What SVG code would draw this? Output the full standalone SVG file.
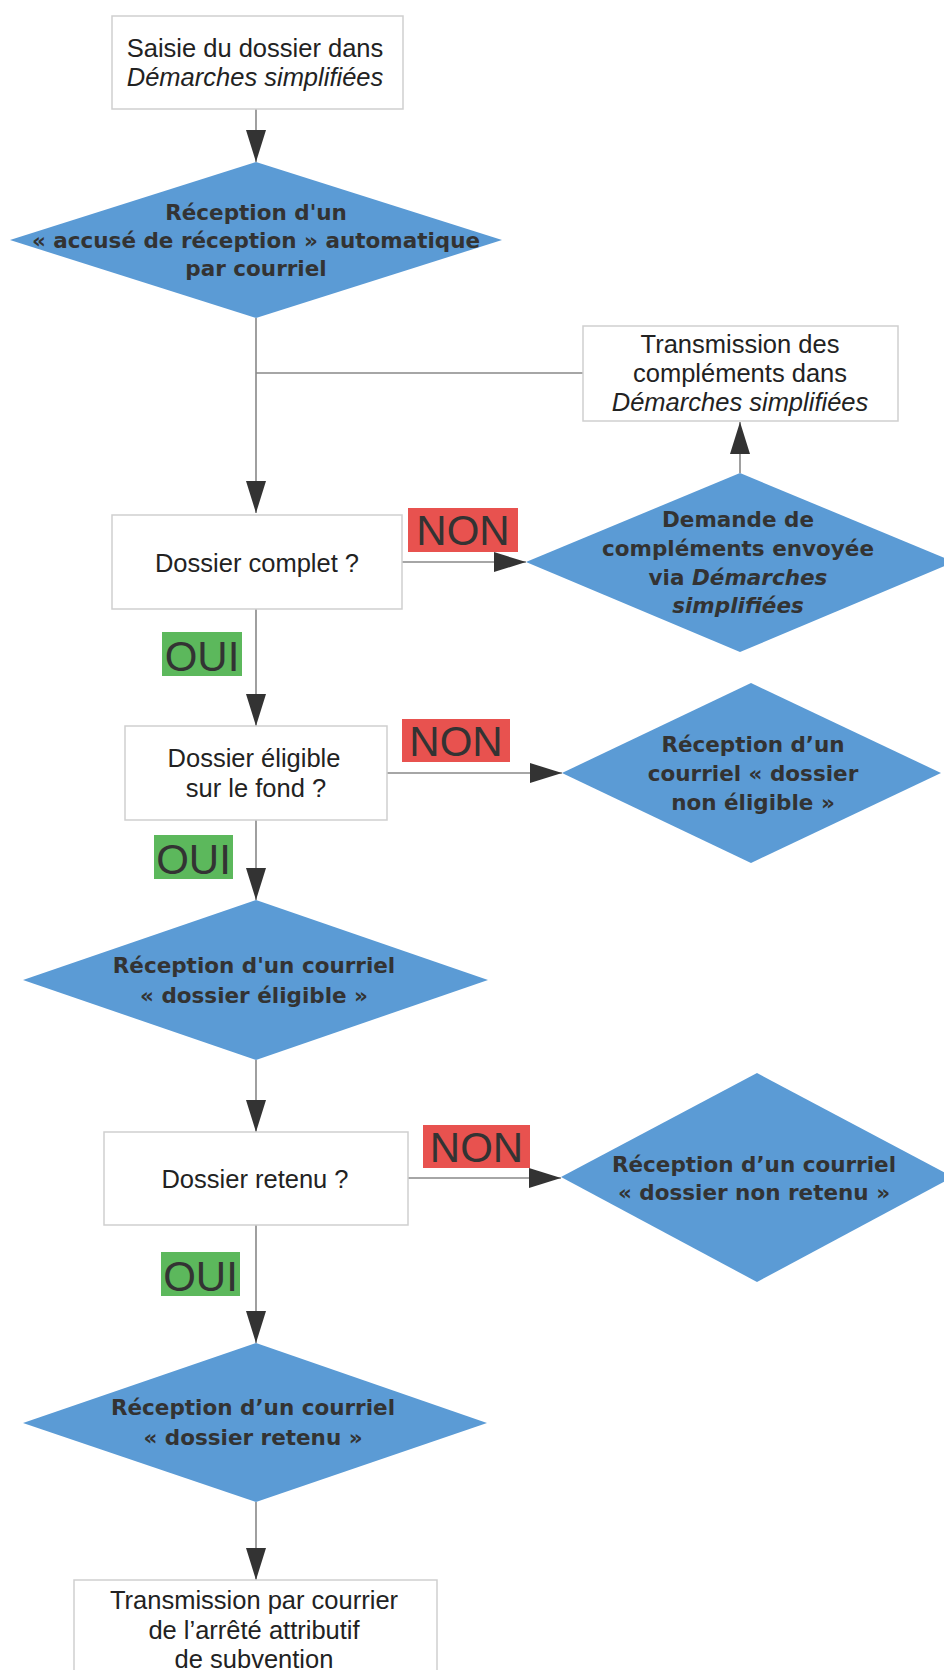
<svg xmlns="http://www.w3.org/2000/svg" width="944" height="1670" viewBox="0 0 944 1670">
  <defs>
    <marker id="ah" markerUnits="userSpaceOnUse" markerWidth="32" markerHeight="20" refX="32" refY="10" orient="auto">
      <path d="M0,0 L32,10 L0,20 z" fill="#333"/>
    </marker>
    <style>
      .box { fill: #fff; stroke: #cfcfcf; stroke-width: 1.5; }
      .dia { fill: #5b9bd5; stroke: none; }
      .conn { fill: none; stroke: #888; stroke-width: 1.6; }
      .arr { marker-end: url(#ah); }
      .t { font-family: "Liberation Sans", Arial, sans-serif; font-size: 25.5px; fill: #222; text-anchor: middle; }
      .b { font-family: "DejaVu Sans", sans-serif; font-weight: bold; font-size: 21.5px; fill: #333; text-anchor: middle; }
      .i { font-style: italic; }
      .lbl { font-family: "Liberation Sans", Arial, sans-serif; font-size: 42px; fill: #333; text-anchor: middle; }
      .non { fill: #e8524f; }
      .oui { fill: #5cb85c; }
    </style>
  </defs>
  <rect width="944" height="1670" fill="#fff"/>

  <g id="connectors">
    <path class="conn arr" d="M256,109 V162"/>
    <path class="conn arr" d="M256,318 V513"/>
    <path class="conn" d="M583,373 H256"/>
    <path class="conn arr" d="M740,473 V422"/>
    <path class="conn arr" d="M402,562 H526"/>
    <path class="conn arr" d="M256,609 V726"/>
    <path class="conn arr" d="M387,773 H562"/>
    <path class="conn arr" d="M256,820 V900"/>
    <path class="conn arr" d="M256,1060 V1132"/>
    <path class="conn arr" d="M408,1178 H561"/>
    <path class="conn arr" d="M256,1225 V1343"/>
    <path class="conn arr" d="M256,1502 V1580"/>
  </g>

  <g id="saisie">
    <rect class="box" x="112" y="16" width="291" height="93"/>
    <text class="t" x="255" y="57">Saisie du dossier dans</text>
    <text class="t i" x="255" y="86">Démarches simplifiées</text>
  </g>

  <g id="accuse">
    <polygon class="dia" points="256,162 502,240 256,318 10,240"/>
    <text class="b" x="256" y="220">Réception d'un</text>
    <text class="b" x="256" y="248">« accusé de réception » automatique</text>
    <text class="b" x="256" y="276">par courriel</text>
  </g>

  <g id="transmission-complements">
    <rect class="box" x="583" y="326" width="315" height="95"/>
    <text class="t" x="740" y="353">Transmission des</text>
    <text class="t" x="740" y="382">compléments dans</text>
    <text class="t i" x="740" y="411">Démarches simplifiées</text>
  </g>

  <g id="dossier-complet">
    <rect class="box" x="112" y="515" width="290" height="94"/>
    <text class="t" x="257" y="572">Dossier complet ?</text>
  </g>

  <g id="demande-complements">
    <polygon class="dia" points="740,473 954,562 740,652 526,562"/>
    <text class="b" x="738" y="527">Demande de</text>
    <text class="b" x="738" y="556">compléments envoyée</text>
    <text class="b" x="738" y="585">via <tspan class="i">Démarches</tspan></text>
    <text class="b i" x="738" y="613">simplifiées</text>
  </g>

  <g id="dossier-eligible">
    <rect class="box" x="125" y="726" width="262" height="94"/>
    <text class="t" x="254" y="767">Dossier éligible</text>
    <text class="t" x="256" y="797">sur le fond ?</text>
  </g>

  <g id="non-eligible">
    <polygon class="dia" points="751,683 941,773 751,863 562,773"/>
    <text class="b" x="753" y="752">Réception d’un</text>
    <text class="b" x="753" y="781">courriel « dossier</text>
    <text class="b" x="753" y="810">non éligible »</text>
  </g>

  <g id="eligible">
    <polygon class="dia" points="256,900 488,980 256,1060 23,980"/>
    <text class="b" x="254" y="973">Réception d'un courriel</text>
    <text class="b" x="254" y="1003">« dossier éligible »</text>
  </g>

  <g id="dossier-retenu">
    <rect class="box" x="104" y="1132" width="304" height="93"/>
    <text class="t" x="255" y="1188">Dossier retenu ?</text>
  </g>

  <g id="non-retenu">
    <polygon class="dia" points="757,1073 953,1177 757,1282 561,1177"/>
    <text class="b" x="754" y="1172">Réception d’un courriel</text>
    <text class="b" x="754" y="1200">« dossier non retenu »</text>
  </g>

  <g id="retenu">
    <polygon class="dia" points="256,1343 487,1423 256,1502 23,1423"/>
    <text class="b" x="253" y="1415">Réception d’un courriel</text>
    <text class="b" x="253" y="1445">« dossier retenu »</text>
  </g>

  <g id="arrete">
    <rect class="box" x="74" y="1580" width="363" height="110"/>
    <text class="t" x="254" y="1609">Transmission par courrier</text>
    <text class="t" x="254" y="1639">de l’arrêté attributif</text>
    <text class="t" x="254" y="1668">de subvention</text>
  </g>

  <g id="labels">
    <g id="non-1"><rect class="non" x="408" y="508" width="110" height="44"/><text class="lbl" x="463" y="545">NON</text></g>
    <g id="oui-1"><rect class="oui" x="162" y="632" width="80" height="44"/><text class="lbl" x="202" y="671">OUI</text></g>
    <g id="non-2"><rect class="non" x="402" y="719" width="108" height="43"/><text class="lbl" x="456" y="756">NON</text></g>
    <g id="oui-2"><rect class="oui" x="154" y="835" width="79" height="44"/><text class="lbl" x="193.5" y="874">OUI</text></g>
    <g id="non-3"><rect class="non" x="423" y="1125" width="107" height="43"/><text class="lbl" x="476.5" y="1162">NON</text></g>
    <g id="oui-3"><rect class="oui" x="161" y="1252" width="79" height="44"/><text class="lbl" x="200.5" y="1291">OUI</text></g>
  </g>
</svg>
